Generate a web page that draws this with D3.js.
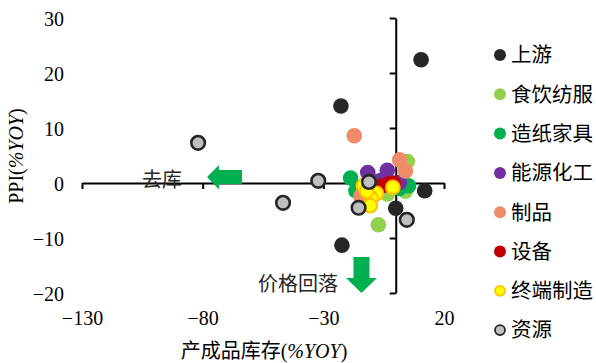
<!DOCTYPE html>
<html>
<head>
<meta charset="utf-8">
<script src="https://cdn.jsdelivr.net/npm/d3@7/dist/d3.min.js"></script>
<style>
  html, body { margin: 0; padding: 0; background: #fff; }
  svg { display: block; }
</style>
</head>
<body>
<svg id="chart" width="596" height="363"></svg>
<script>
// Inventory growth (x) vs PPI growth (y), by industry group
const seriesNames = ["上游", "食饮纺服", "造纸家具", "能源化工", "制品", "设备", "终端制造", "资源"];

const upstream   = [[10.5, 22.4], [-22.7, 14.0], [-22.3, -11.3], [12.0, -1.4], [0.0, -4.6]];
const foodTextile = [[4.8, 3.9], [-7.2, -7.6], [-3.5, -2.0], [4.0, -1.5]];
const paperFurn  = [[-18.7, 0.9], [-16.5, -1.4], [5.3, -0.5], [-7.5, 0.3], [1.5, -1.0]];
const energyChem = [[-11.6, 1.9], [-3.5, 2.3], [1.5, 0.1], [-6.0, 0.5], [-10.0, -0.2]];
const products   = [[-17.2, 8.6], [1.6, 4.2], [4.0, 2.2], [-14.5, -2.4]];
const equipment  = [[-5.5, -0.5], [-3.0, -0.2], [-1.0, 0.0]];
const terminal   = [[-13.4, -0.5], [-8.0, -1.9], [-10.2, -2.8], [-10.6, -4.1], [-1.2, -0.8], [-12.0, -1.5]];
const resources  = [[-81.9, 7.3], [-46.7, -3.6], [-32.1, 0.4], [-11.1, 0.2], [-15.4, -4.5], [4.6, -6.7]];

const seriesValues = [upstream, foodTextile, paperFurn, energyChem, products, equipment, terminal, resources];

const xTicks = [-130, -80, -30, 20];
const yTicks = [-20, -10, 0, 10, 20, 30];

const styles = [
  { fill: "#262626", stroke: "none", sw: 0, r: 7.8 },
  { fill: "#92D050", stroke: "none", sw: 0, r: 7.8 },
  { fill: "#00B050", stroke: "none", sw: 0, r: 7.8 },
  { fill: "#7030A0", stroke: "none", sw: 0, r: 7.8 },
  { fill: "#EE8B68", stroke: "none", sw: 0, r: 7.8 },
  { fill: "#C00000", stroke: "none", sw: 0, r: 7.8 },
  { fill: "#FFFF00", stroke: "#FFC000", sw: 2, r: 6.9 },
  { fill: "#BFBFBF", stroke: "#262626", sw: 2.6, r: 6.8 }
];

const svg = d3.select("#chart");
const serif = "'Liberation Serif', 'Times New Roman', serif";
const cjk = "'Noto Sans CJK SC', 'Noto Sans', sans-serif";

const x = d3.scaleLinear().domain([-130, 20]).range([82, 444]);
const y = d3.scaleLinear().domain([-20, 30]).range([293, 18]);

// Axis lines crossing at the origin
const xAxis = svg.append("g")
  .attr("transform", `translate(0,${y(0)})`)
  .call(d3.axisBottom(x).tickValues(xTicks).tickSize(6).tickSizeOuter(0).tickFormat(""));
const yAxis = svg.append("g")
  .attr("transform", `translate(${x(0)},0)`)
  .call(d3.axisLeft(y).tickValues(yTicks).tickSize(6).tickSizeOuter(0).tickFormat(""));
[xAxis, yAxis].forEach(g => {
  g.selectAll("path, line").attr("stroke", "#000").attr("stroke-width", 2);
});

// Tick labels placed at the low edges of the plot
const xLab = svg.append("g")
  .attr("transform", `translate(0,311)`)
  .call(d3.axisBottom(x).tickValues(xTicks).tickSize(0).tickPadding(0));
xLab.select(".domain").remove();
xLab.selectAll("text").attr("font-family", serif).attr("font-size", 20).attr("fill", "#000").attr("dy", "0.71em");

const yLab = svg.append("g")
  .attr("transform", `translate(64,0)`)
  .call(d3.axisLeft(y).tickValues(yTicks).tickSize(0).tickPadding(0));
yLab.select(".domain").remove();
yLab.selectAll("text").attr("font-family", serif).attr("font-size", 20).attr("fill", "#000").attr("dy", "0.36em");

// Axis titles
const yt = svg.append("text")
  .attr("transform", "translate(23,156) rotate(-90)")
  .attr("text-anchor", "middle")
  .attr("font-family", serif).attr("font-size", 20).attr("fill", "#000");
yt.append("tspan").text("PPI(");
yt.append("tspan").attr("font-style", "italic").text("%YOY");
yt.append("tspan").text(")");

const xt = svg.append("text")
  .attr("x", 264).attr("y", 358)
  .attr("text-anchor", "middle")
  .attr("font-size", 20).attr("fill", "#000");
xt.append("tspan").attr("font-family", cjk).text("产成品库存");
xt.append("tspan").attr("font-family", serif).text("(");
xt.append("tspan").attr("font-family", serif).attr("font-style", "italic").text("%YOY");
xt.append("tspan").attr("font-family", serif).text(")");

// Annotations with arrows
svg.append("text")
  .attr("x", 162).attr("y", 180).attr("dy", "0.36em")
  .attr("text-anchor", "middle")
  .attr("font-family", cjk).attr("font-size", 20).attr("fill", "#262626")
  .text("去库");
svg.append("path")
  .attr("d", "M207,177 L219,165 L219,170 L242,170 L242,184 L219,184 L219,189.5 Z")
  .attr("fill", "#00B050");

svg.append("text")
  .attr("x", 298).attr("y", 284).attr("dy", "0.36em")
  .attr("text-anchor", "middle")
  .attr("font-family", cjk).attr("font-size", 20).attr("fill", "#262626")
  .text("价格回落");
svg.append("path")
  .attr("d", "M353.5,257 L369.5,257 L369.5,278 L377,278 L361.5,293 L346,278 L353.5,278 Z")
  .attr("fill", "#00B050");

// Scatter points, one layer per series in legend order
seriesValues.forEach((pts, i) => {
  const st = styles[i];
  svg.append("g")
    .selectAll("circle")
    .data(pts)
    .join("circle")
    .attr("cx", d => x(d[0]))
    .attr("cy", d => y(d[1]))
    .attr("r", st.r)
    .attr("fill", st.fill)
    .attr("stroke", st.stroke)
    .attr("stroke-width", st.sw);
});

// Legend
const legend = svg.append("g");
seriesNames.forEach((name, i) => {
  const st = styles[i];
  const cy = 55 + i * 39.3;
  legend.append("circle")
    .attr("cx", 500).attr("cy", cy)
    .attr("r", st.sw ? 5 : 6)
    .attr("fill", st.fill)
    .attr("stroke", st.stroke)
    .attr("stroke-width", st.sw ? 1.8 : 0);
  legend.append("text")
    .attr("x", 511).attr("y", cy).attr("dy", "0.36em")
    .attr("font-family", cjk).attr("font-size", 20.5).attr("fill", "#000")
    .text(name);
});
</script>
</body>
</html>
